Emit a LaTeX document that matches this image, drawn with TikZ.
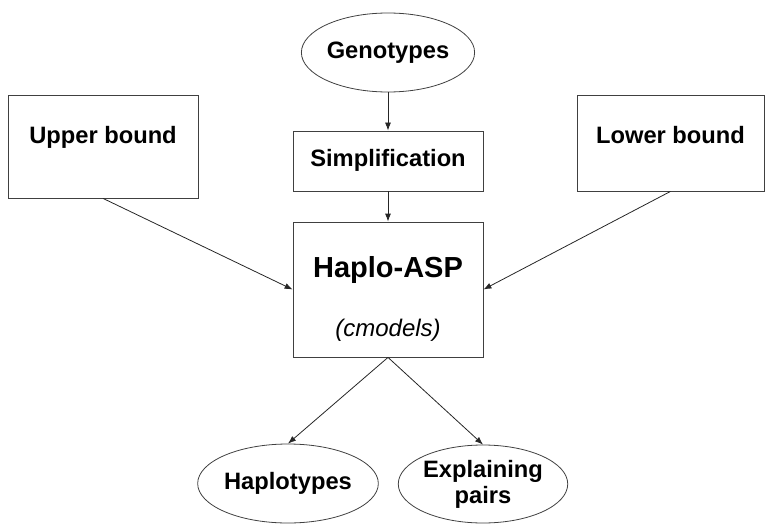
\documentclass[tikz,border=0pt]{standalone}
\usepackage{fontspec}
\setmainfont{Liberation Sans}
\usetikzlibrary{arrows.meta,shapes.geometric}
\tikzset{
  arrow/.style={-{Latex[length=8pt,width=6pt]}, line width=.8pt, draw=black!85},
  block/.style={draw=black!75, line width=.8pt, inner sep=0pt, font=\fontsize{23.7}{28}\selectfont\bfseries},
  result/.style={ellipse, draw=black!75, line width=.8pt, inner sep=0pt, align=center, font=\fontsize{23.7}{26}\selectfont\bfseries}
}

\begin{document}
\begin{tikzpicture}[x=1pt,y=-1pt]
  \useasboundingbox (0,0) rectangle (765,524);
  % Input and preprocessing.
  \node[result, minimum width=156, minimum height=79] (genotypes) at (388,52.5) {Genotypes};
  \node[block, minimum width=190, text height=35, text depth=25] (simplify) at (388,161) {Simplification};
  \node[block, minimum width=190, text height=48, text depth=55] (upper) at (103,146.5) {Upper bound};
  \node[block, minimum width=187, text height=48, text depth=48] (lower) at (670.5,143) {Lower bound};

  % Solver.
  \node[block, minimum width=190, text height=114, text depth=21, align=center] (haplo) at (388,289.5)
    {{\fontsize{29}{28}\selectfont\bfseries Haplo-ASP}\\[31pt]{\fontsize{24}{28}\selectfont\mdseries\itshape (cmodels)}};
  \draw[arrow] (genotypes) -- (simplify);
  \draw[arrow] (simplify) -- (haplo);
  \draw[arrow] (upper.south) -- (haplo.west);
  \draw[arrow] (lower.south) -- (haplo.east);

  % Outputs.
  \node[result, minimum width=150, minimum height=79] (haplotypes) at (288,483.5) {Haplotypes};
  \node[result, minimum width=146, minimum height=78] (pairs) at (483,484) {Explaining\\pairs};
  \draw[arrow] (haplo.south) -- (haplotypes.north);
  \draw[arrow] (haplo.south) -- (pairs.north);
\end{tikzpicture}
\end{document}
